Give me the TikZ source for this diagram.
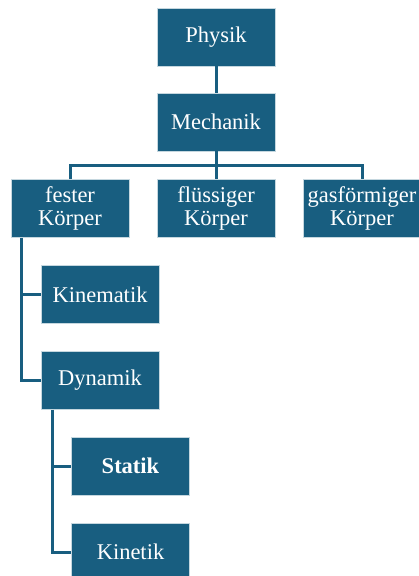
\documentclass[tikz,border=0pt]{standalone}
\usepackage{fontspec}
\setmainfont{Liberation Serif}
\definecolor{boxblue}{RGB}{24,94,128}
\begin{document}
\begin{tikzpicture}[x=1pt,y=-1pt,
  box/.style={fill=boxblue,draw=white!75!boxblue,line width=0.8pt,minimum width=118pt,minimum height=58pt,
    text=white,align=center,inner sep=1pt,font=\fontsize{22.5}{23.5}\selectfont},
  link/.style={draw=boxblue,line width=3pt}]
\useasboundingbox (0,0) rectangle (418,576);
\node[box] (physik) at (216,37) {Physik};
\node[box] (mechanik) at (216,122) {Mechanik};
\node[box] (fester) at (70,208.5) {fester\\Körper};
\node[box] (fluessig) at (216,208.5) {flüssiger\\Körper};
\node[box] (gas) at (362,208.5) {gasförmiger\\Körper};
\node[box] (kinematik) at (100,294.5) {Kinematik};
\node[box] (dynamik) at (100,380.5) {Dynamik};
\node[box] (statik) at (130.5,466) {\bfseries Statik};
\node[box] (kinetik) at (130.5,552) {Kinetik};
\coordinate (bus) at (216,165);
\draw[link] (physik.south) -- (mechanik.north);
\draw[link] (mechanik.south) -- (bus);
\draw[link] (fester.north) |- (bus) -| (gas.north);
\draw[link] (bus) -- (fluessig.north);
\draw[link] ([xshift=-49pt]fester.south) |- (kinematik.west);
\draw[link] ([xshift=-49pt]fester.south) |- (dynamik.west);
\draw[link] ([xshift=-48pt]dynamik.south) |- (statik.west);
\draw[link] ([xshift=-48pt]dynamik.south) |- (kinetik.west);
\end{tikzpicture}
\end{document}
